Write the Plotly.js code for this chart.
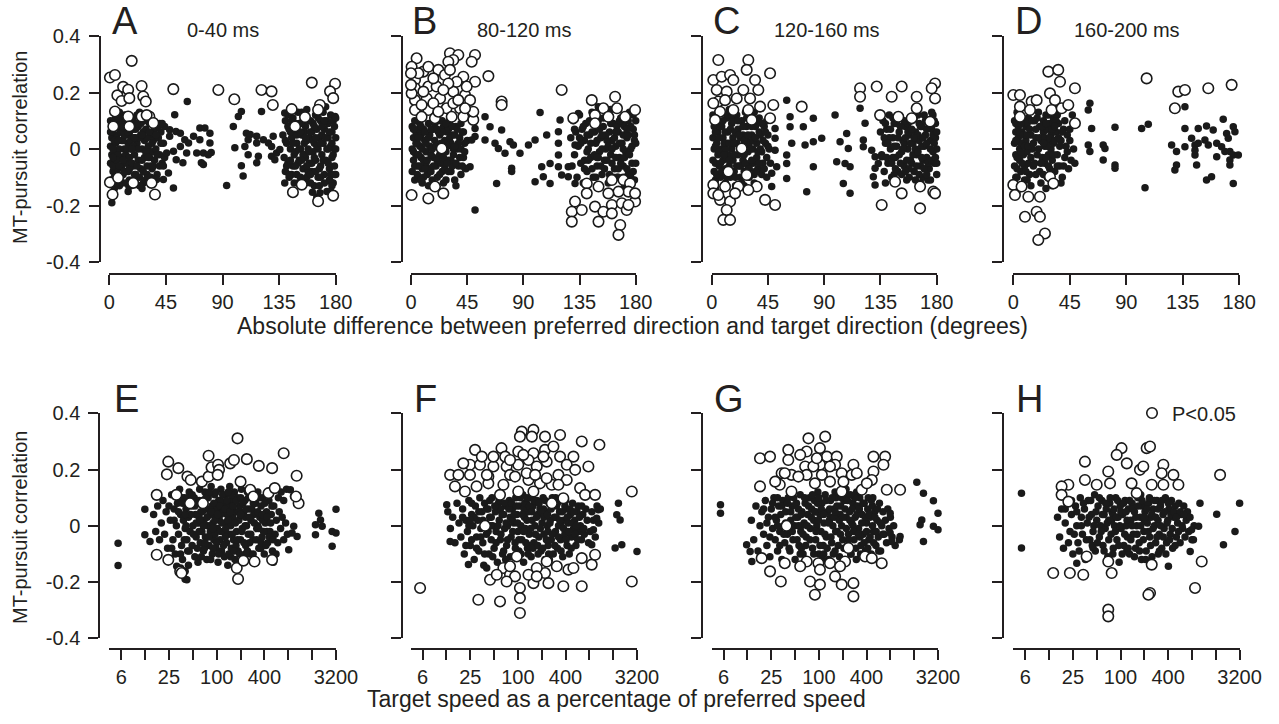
<!DOCTYPE html>
<html><head><meta charset="utf-8">
<script src="https://cdn.plot.ly/plotly-3.0.1.min.js"></script>
<style>html,body{margin:0;padding:0;background:#fff;}#chart{width:1279px;height:724px;}</style>
</head><body><div id="chart"></div>
<script>
// ---------- DATA ----------
const dirTickVals = [0, 45, 90, 135, 180];
const dirTickText = ['0', '45', '90', '135', '180'];
const speedTickVals = [6.25, 12.5, 25, 50, 100, 200, 400, 800, 1600, 3200];
const speedTickText = ['6', '', '25', '', '100', '', '400', '', '', '3200'];
const corrTickVals = [-0.4, -0.2, 0, 0.2, 0.4];
const corrTickText = ['-0.4', '-0.2', '0', '0.2', '0.4'];
const panelLetters = ['A', 'B', 'C', 'D', 'E', 'F', 'G', 'H'];
const timeWindows = ['0-40 ms', '80-120 ms', '120-160 ms', '160-200 ms'];
const yTitle = 'MT-pursuit correlation';
const xTitleTop = 'Absolute difference between preferred direction and target direction (degrees)';
const xTitleBottom = 'Target speed as a percentage of preferred speed';
const legendName = 'P<0.05';

// Panel A: direction, 0-40 ms  [deg, r]
const dotsA = [[1,0.1],[3,0.07],[2,0.04],[1,0.01],[2,-0.02],[1,-0.05],[3,-0.08],[2,-0.11],[4,-0.14],[2,-0.19],
[5,0.11],[6,0.05],[5,0.02],[6,-0.01],[5,-0.04],[7,-0.07],[6,-0.1],[8,-0.13],[7,0.08],[8,0.0],
[9,0.1],[10,0.06],[10,0.03],[9,-0.03],[10,-0.06],[11,-0.09],[10,-0.12],[12,0.12],[12,0.0],[13,-0.02],
[14,0.09],[14,0.05],[15,0.02],[14,-0.05],[15,-0.08],[16,-0.11],[17,-0.13],[18,0.1],[18,0.04],[17,0.0],
[19,0.07],[20,-0.02],[19,-0.06],[21,-0.09],[20,-0.12],[22,0.12],[22,0.02],[23,-0.04],[23,0.08],[24,-0.1],
[25,0.05],[26,0.0],[25,-0.07],[27,-0.12],[27,0.1],[28,0.03],[28,-0.03],[29,0.07],[30,-0.06],[30,-0.09],
[31,0.01],[32,0.09],[32,-0.03],[33,0.05],[34,-0.01],[34,-0.07],[35,0.03],[36,0.07],[36,-0.04],[37,0.0],
[38,-0.09],[39,0.04],[40,-0.02],[41,0.06],[42,-0.05],[43,0.02],[44,-0.03],[40,0.09],[26,-0.14],[15,-0.15],
[24,0.13],[8,0.13],[11,0.03],[13,0.06],[16,-0.03],[21,0.04],[29,-0.01],[33,-0.1],[4,0.03],[7,-0.02],
[15.6,-0.132],[37.6,-0.108],
[52,0.121],[62,0.168],[44,0.08],[48,0.068],[53,0.062],[56.5,0.056],[48,0.045],[60,0.033],[67,0.045],[72,0.074],
[76,0.074],[80,0.056],[72,0.033],[80,0.021],[63,0.021],[56.5,0.009],[51,-0.008],[45.6,-0.014],[61.5,-0.014],[69.5,-0.014],
[74.8,-0.014],[81,-0.012],[78.7,-0.02],[53.2,-0.038],[58.5,-0.049],[73.2,-0.049],[74.8,-0.055],[47,-0.085],[43,-0.108],[51,-0.138],
[93.3,-0.129],[98.6,0.08],[102.6,0.115],[105,0.133],[109,0.056],[112,0.051],[110.4,0.033],[107.8,0.009],[99.8,0.004],[110.4,-0.02],
[105,-0.059],[106.4,-0.096],[117.2,-0.049],[118.5,-0.026],[117.2,0.045],[117.2,0.021],[122.5,0.033],[121,0.133],[126.5,0.021],[129,0.009],
[130.3,0.045],[129,-0.026],[131.6,-0.038],[133,-0.014],[135.6,-0.002],
[138,0.05],[139,-0.03],[140,0.1],[140,-0.08],[141,0.02],[142,-0.05],[143,0.07],[143,-0.1],[144,0.0],[145,0.04],
[146,-0.06],[146,0.11],[147,-0.02],[148,0.06],[149,-0.09],[149,0.02],[150,-0.12],[151,0.09],[151,-0.04],[152,0.0],
[153,0.13],[153,0.05],[154,-0.07],[155,0.02],[155,-0.02],[156,0.08],[157,-0.1],[157,0.14],[158,0.0],[159,0.04],
[159,-0.05],[160,0.1],[161,-0.08],[161,0.06],[162,-0.01],[163,0.02],[163,-0.13],[164,0.12],[164,-0.04],[165,0.07],
[166,0.0],[166,-0.1],[167,0.04],[168,-0.06],[168,0.1],[169,-0.02],[170,0.13],[170,0.02],[171,-0.09],[171,0.07],
[172,-0.04],[173,0.0],[173,-0.15],[174,0.09],[174,0.04],[175,-0.07],[175,-0.11],[176,0.01],[176,0.12],[177,-0.03],
[177,0.06],[178,-0.12],[178,0.1],[179,0.0],[179,-0.06],[180,0.04],[180,-0.09],[165,-0.17],[172,0.15],[160,-0.12],
[145,-0.09],[150,0.13],[156,-0.03],[162,0.09],[167,-0.13],[154,0.1],[148,-0.01],[142,0.12],[158,-0.08],[169,0.05],
[179.5,0.115],[175.6,-0.114],[177,-0.13],[167.5,-0.155],[161.5,-0.153],[139.5,-0.12],[143,-0.09],[139.5,0.127]];
const coreA = [[2,0.06],[3,0.0],[3,-0.06],[4,0.1],[4,-0.1],[6,0.08],[6,-0.04],[7,0.03],[8,-0.06],[9,0.06],
[9,-0.1],[11,0.08],[11,-0.04],[12,-0.08],[13,0.1],[13,-0.12],[14,0.0],[16,0.06],[16,-0.07],[17,0.03],
[18,-0.05],[19,0.11],[19,0.01],[20,-0.09],[21,0.07],[22,-0.06],[23,0.0],[24,0.04],[24,-0.13],[25,0.09],
[26,-0.04],[27,0.06],[27,-0.08],[28,0.1],[29,-0.11],[30,0.04],[31,-0.03],[32,0.06],[33,-0.06],[34,0.02],
[35,0.1],[35,-0.06],[37,0.05],[38,-0.02],[39,0.08],[40,-0.06],[41,0.02],[43,-0.06],[42,0.09],[5,-0.12],
[10,0.11],[18,0.0],[22,0.09],[26,0.05],[12,0.05],[7,0.11],[15,0.06],[20,0.04],[3,-0.03],[1,0.06],
[140,0.03],[141,-0.06],[142,0.08],[144,-0.04],[145,0.1],[146,0.02],[147,-0.12],[148,0.09],[149,0.05],[150,-0.05],
[151,0.0],[152,-0.1],[153,0.09],[154,-0.02],[155,0.06],[156,-0.12],[157,0.03],[158,0.1],[159,-0.01],[160,0.06],
[161,-0.05],[162,0.03],[163,0.08],[164,-0.08],[165,0.01],[166,0.11],[167,-0.07],[168,0.02],[169,0.08],[170,-0.04],
[171,-0.12],[172,0.04],[173,0.1],[174,-0.05],[175,0.06],[176,-0.09],[177,0.02],[178,-0.02],[179,0.08],[180,0.0],
[176,-0.15],[179,-0.09],[180,0.11],[174,0.0],[168,-0.1],[164,0.04],[160,-0.09],[156,0.04],[152,0.06],[148,-0.06],
[144,0.06],[171,0.1],[163,-0.03],[157,-0.06],[153,-0.04]];
const openA = [[0.5,0.253],[4.5,0.262],[17.8,0.312],[6.4,0.19],[11,0.22],[15,0.21],[9.8,0.17],[15.9,0.18],[25.7,0.223],[27,0.186],
[29,0.168],[4.5,0.133],[15,0.115],[25.7,0.115],[31.8,0.115],[29.7,0.12],[3.2,0.08],[15.9,0.08],[35,0.092],[50.9,0.212],
[86.7,0.209],[99.4,0.176],[121,0.209],[129,0.204],[130,0.156],[145,0.141],[161,0.235],[179.5,0.231],[175.5,0.204],[178,0.18],
[167.5,0.156],[166,0.139],[155.6,0.113],[147.7,0.08],[0.5,-0.118],[2.6,-0.161],[7,-0.102],[19,-0.12],[33.6,-0.12],[36.3,-0.161],
[146,-0.153],[153,-0.126],[166,-0.185],[178,-0.165]];

// Panel B: direction, 80-120 ms
const dotsB = [[1,0.08],[2,0.04],[1,0.0],[2,-0.04],[1,-0.08],[3,-0.11],[4,0.06],[5,0.02],[4,-0.02],[5,-0.06],
[6,-0.1],[7,0.09],[8,0.05],[7,0.01],[8,-0.03],[9,-0.07],[9,-0.12],[10,0.07],[11,0.03],[12,-0.01],
[12,-0.05],[13,-0.09],[14,0.09],[15,0.05],[15,0.01],[16,-0.08],[17,-0.11],[18,0.07],[19,0.03],[20,-0.06],
[21,-0.1],[22,0.1],[23,0.05],[23,-0.02],[24,-0.05],[25,-0.08],[26,0.08],[27,0.03],[28,-0.01],[28,-0.11],
[29,0.06],[30,-0.04],[31,0.1],[32,0.02],[32,-0.08],[33,0.05],[34,-0.02],[35,-0.11],[36,0.08],[37,0.0],
[38,-0.06],[39,0.04],[40,-0.09],[41,0.06],[42,-0.03],[43,0.02],[44,-0.07],[36,-0.13],[20,0.1],[10,-0.04],
[3,0.1],[6,0.07],[14,-0.13],[25,0.1],[30,0.07],[18,-0.03],[26,-0.12],[40,0.09],[45,0.03],[33,-0.06],
[51.3,-0.216],[59.3,0.114],[51.3,0.073],[63.3,0.079],[72.6,0.067],[59.3,0.032],[70,0.002],[75.3,-0.015],[79.3,0.026],[82,0.014],
[87.3,-0.015],[67.3,0.02],[80.6,-0.068],[80.6,-0.08],[68.6,-0.122],[51.3,0.044],[48.6,0.032],[47.3,-0.063],[43.3,-0.068],[103.4,0.129],
[108.7,0.05],[99.4,0.032],[94.1,0.014],[118.1,0.061],[118.1,0.02],[118.1,-0.021],[118.1,-0.063],[111.4,-0.051],[104.7,-0.063],[106,-0.098],
[99.4,-0.116],[111.4,-0.122],[119.4,0.103],[120.7,-0.092],[126,-0.098],[131.4,-0.122],[126,-0.063],[134,0.126],[131.4,0.014],
[128,0.04],[129,-0.06],[130,0.1],[131,-0.02],[132,0.06],[133,-0.1],[134,0.01],[135,0.12],[136,-0.05],[137,0.07],
[138,-0.12],[139,0.03],[140,0.09],[141,-0.08],[142,0.0],[143,0.05],[144,-0.03],[145,0.13],[146,-0.1],[147,0.06],
[148,0.02],[149,-0.06],[150,0.1],[151,-0.01],[152,0.04],[153,-0.09],[154,0.08],[155,-0.04],[156,0.0],[157,0.12],
[158,-0.12],[159,0.06],[160,-0.02],[161,0.03],[162,0.09],[163,-0.07],[164,0.01],[165,-0.1],[166,0.06],[167,-0.03],
[168,0.11],[169,0.02],[170,-0.06],[171,0.08],[172,-0.01],[173,0.04],[174,-0.09],[175,0.13],[176,0.0],[177,-0.05],
[178,0.07],[179,-0.11],[180,0.02],[180,0.1],[179,0.05],[177,-0.12],[174,0.1],[170,0.05],[166,-0.07],[162,-0.1],
[157,0.03],[152,-0.06],[147,-0.02],[143,0.1],[139,-0.04],[135,0.04],[131,0.07],[160,0.14],[150,0.15],[171,-0.13]];
const coreB = [[2,0.07],[2,-0.01],[3,-0.06],[4,0.02],[5,-0.09],[6,0.04],[6,-0.02],[7,-0.06],[8,0.08],[9,0.0],
[10,-0.1],[11,0.06],[12,0.02],[13,-0.04],[14,0.04],[15,-0.07],[16,0.07],[16,-0.02],[17,0.0],[18,-0.06],
[19,0.09],[20,0.01],[21,-0.04],[22,0.06],[23,-0.09],[24,0.02],[25,0.06],[26,-0.03],[27,-0.07],[28,0.09],
[29,0.01],[30,-0.08],[31,0.04],[32,-0.04],[33,0.08],[34,0.0],[35,0.05],[36,-0.05],[37,0.07],[38,0.02],
[39,-0.03],[40,0.0],[41,-0.06],[42,0.06],[43,-0.01],[11,-0.07],[21,0.07],[29,-0.05],[35,0.01],[8,-0.11],
[136,0.02],[138,0.08],[139,-0.07],[141,0.05],[142,-0.04],[144,0.02],[145,-0.07],[146,0.09],[148,-0.1],[149,0.03],
[150,-0.03],[151,0.07],[153,0.0],[154,0.11],[155,-0.07],[156,0.05],[158,0.01],[159,-0.09],[160,0.09],[161,-0.05],
[163,0.04],[164,-0.03],[165,0.08],[166,-0.1],[167,0.02],[168,-0.05],[169,0.09],[170,0.0],[171,-0.03],[172,0.11],
[173,-0.07],[174,0.05],[175,-0.02],[176,0.08],[177,0.01],[178,-0.08],[179,0.03],[180,-0.05],[178,0.12],[176,-0.1],
[173,0.07],[170,-0.1],[167,0.1],[164,0.06],[161,0.0],[157,-0.04],[153,0.05],[149,-0.03],[145,0.06],[141,-0.01]];
const openB = [[4.5,0.321],[0.5,0.291],[9.9,0.274],[13.9,0.291],[21.9,0.28],[31.2,0.339],[37.9,0.333],[33.9,0.315],[29.9,0.309],[51.3,0.333],
[48.6,0.309],[62,0.258],[27.2,0.262],[31.2,0.28],[41.9,0.256],[51.3,0.238],[3.2,0.244],[3.2,0.215],[13.9,0.221],[20.5,0.221],
[3.2,0.173],[12.6,0.179],[23.3,0.179],[33.9,0.203],[43.3,0.191],[47.3,0.173],[3.2,0.138],[13.9,0.138],[28.5,0.144],[39.3,0.144],
[8.5,0.114],[19.2,0.109],[32.6,0.114],[41.9,0.114],[49.9,0.103],[0.5,0.197],[0,0.227],[24.6,0.002],[72.6,0.168],[72.6,0.156],
[120.7,0.209],[0.5,-0.163],[13.9,-0.175],[19.2,-0.133],[25.9,-0.157],
[5.9,0.268],[17.9,0.25],[36.6,0.238],[9.9,0.203],[29.9,0.232],[44.6,0.221],[17.9,0.162],[33.9,0.162],[0,0.268],[25.9,0.209],
[37.9,0.173],[8.5,0.156],[21.9,0.132],[49.9,0.132],[43.3,0.144],
[144.8,0.173],[154.1,0.144],[163.5,0.185],[165,0.144],[171.5,0.114],[147.4,0.12],[158.1,0.114],[147.4,0.091],[130,0.109],[179.5,0.138],
[140.8,-0.122],[150.2,-0.133],[160.9,-0.11],[170.2,-0.11],[175.5,-0.122],[174.2,-0.151],[166.2,-0.151],[158.1,-0.157],[140.8,-0.157],[131.4,-0.186],
[128.8,-0.222],[136.8,-0.216],[147.4,-0.204],[154.1,-0.222],[150.2,-0.257],[160.9,-0.198],[168.9,-0.192],[179.5,-0.186],[172.8,-0.216],[167.6,-0.269],
[166.2,-0.304],[128.8,-0.257],[179.5,-0.157],[174.2,-0.198],[160.9,-0.228]];

// Panel C: direction, 120-160 ms
const dotsC = [[1,0.12],[2,0.08],[1,0.04],[2,0.0],[1,-0.04],[2,-0.08],[3,-0.11],[4,0.1],[5,0.06],[4,0.02],
[5,-0.02],[6,-0.06],[7,-0.1],[8,0.13],[8,0.08],[9,0.04],[8,0.0],[9,-0.04],[10,-0.08],[11,-0.12],
[12,0.11],[13,0.06],[12,0.02],[13,-0.02],[14,-0.06],[15,-0.1],[16,0.09],[17,0.04],[16,0.0],[17,-0.04],
[18,-0.08],[19,-0.13],[20,0.12],[21,0.07],[20,0.02],[21,-0.02],[22,-0.06],[23,-0.1],[24,0.1],[25,0.05],
[24,0.0],[25,-0.04],[26,-0.08],[27,0.13],[28,0.08],[28,0.03],[29,-0.01],[29,-0.06],[30,-0.1],[31,0.11],
[32,0.05],[33,0.0],[33,-0.05],[34,-0.09],[35,0.08],[36,0.02],[36,-0.03],[37,-0.07],[38,0.11],[39,0.05],
[40,-0.01],[41,-0.05],[42,0.08],[43,0.02],[44,-0.03],[44,0.1],[40,-0.09],[45,0.05],[46,0.0],[47,-0.05],
[6,0.14],[14,0.14],[3,-0.14],[10,-0.14],[26,-0.13],[18,0.12],[34,0.13],[11,0.0],[23,0.04],[30,0.02],
[60,0.173],[62.7,0.114],[62.7,0.079],[73.3,0.079],[81.3,0.109],[50.7,0.073],[50.7,0.038],[64,0.02],[74.7,0.014],[81.3,0.026],
[88,0.038],[50.7,-0.004],[60,-0.021],[60,-0.051],[60,-0.104],[81.3,-0.063],[76,-0.151],[48,-0.133],[98.7,0.12],[108,0.055],
[102.7,0.026],[109.3,0.002],[100,-0.045],[106.7,-0.051],[110.7,-0.063],[105.3,-0.122],[110.7,-0.157],[118.7,0.144],[122.7,0.091],[121.3,0.032],
[121.3,0.008],[128,-0.004],[130.7,-0.027],[130.7,-0.068],[129.3,-0.098],[130.7,-0.127],[133.3,-0.051],[136,-0.027],[48,-0.086],[52,-0.063],
[135,0.06],[136,-0.02],[137,0.1],[138,-0.08],[139,0.02],[140,0.07],[141,-0.05],[142,0.12],[143,0.0],[144,-0.1],
[145,0.04],[146,0.09],[147,-0.03],[148,0.01],[149,-0.08],[150,0.06],[151,0.11],[152,-0.01],[153,0.03],[154,-0.06],
[155,0.08],[156,-0.11],[157,0.0],[158,0.05],[159,-0.04],[160,0.1],[161,0.02],[162,-0.08],[163,0.06],[164,-0.02],
[165,0.12],[166,0.03],[167,-0.06],[168,0.08],[169,-0.1],[170,0.01],[171,0.05],[172,-0.03],[173,0.1],[174,-0.07],
[175,0.03],[176,0.07],[177,-0.01],[178,-0.05],[179,0.09],[180,0.0],[180,-0.09],[179,0.04],[177,0.12],[175,-0.11],
[172,0.07],[169,-0.04],[166,0.09],[163,-0.11],[160,-0.05],[157,0.09],[154,0.02],[151,-0.05],[148,0.09],[145,-0.03],
[142,0.04],[139,-0.12],[176,0.13],[170,0.12],[167,-0.12],[173,-0.11],[146,-0.09],[158,-0.1]];
const coreC = [[2,0.11],[3,0.06],[3,0.01],[3,-0.05],[4,-0.09],[5,0.13],[6,0.04],[6,-0.01],[7,0.08],[7,-0.05],
[9,0.1],[10,0.02],[10,-0.02],[11,0.06],[11,-0.07],[12,-0.1],[13,0.12],[14,0.02],[14,-0.04],[15,0.07],
[16,-0.08],[17,0.1],[18,0.02],[18,-0.02],[19,0.06],[19,-0.1],[20,-0.06],[21,0.1],[22,0.01],[22,0.05],
[23,-0.06],[24,-0.12],[25,0.08],[26,0.03],[26,-0.02],[27,-0.05],[28,0.11],[29,0.05],[30,-0.07],[31,0.0],
[32,0.08],[32,-0.04],[33,0.03],[34,-0.12],[35,0.04],[36,0.1],[37,-0.01],[38,0.06],[38,-0.05],[39,0.0],
[40,0.09],[41,0.03],[42,-0.07],[43,0.06],[44,-0.1],[45,0.01],[16,0.12],[8,-0.08],[27,0.0],[35,-0.08],
[138,0.04],[139,0.09],[140,-0.03],[141,0.02],[143,0.07],[144,-0.05],[145,0.11],[146,0.01],[147,-0.07],[149,0.04],
[150,-0.02],[151,0.08],[152,-0.09],[153,0.0],[154,0.1],[155,0.04],[156,-0.04],[157,0.06],[158,-0.07],[159,0.02],
[160,0.07],[161,-0.02],[162,0.11],[163,0.0],[164,-0.06],[165,0.05],[166,-0.09],[167,0.08],[168,0.01],[169,0.04],
[170,-0.07],[171,0.1],[172,0.02],[173,-0.05],[174,0.08],[175,0.0],[176,-0.04],[177,0.05],[178,0.1],[179,-0.03],
[180,0.06],[180,-0.05],[178,0.02],[175,0.1],[172,-0.09],[168,-0.03],[165,-0.01],[162,0.04],[159,0.1],[155,-0.08]];
const openC = [[5.3,0.315],[29.3,0.315],[28,0.28],[1.3,0.244],[8,0.256],[14.7,0.262],[17.3,0.244],[34.7,0.244],[46.7,0.268],[4,0.209],
[12,0.203],[25.3,0.209],[37.3,0.209],[5.3,0.168],[10.7,0.173],[20,0.179],[30.7,0.179],[49.3,0.156],[72,0.15],[6.7,0.132],
[17.3,0.138],[29.3,0.138],[38.7,0.15],[46.7,0.109],[32,0.103],[2.7,0.103],[1.3,0.162],[24,0.002],[13.3,-0.08],[28,-0.092],
[1.3,-0.127],[1.3,-0.157],[10.7,-0.133],[21.3,-0.133],[36,-0.133],[6.7,-0.18],[14.7,-0.186],[12,-0.216],[9.3,-0.251],[14.7,-0.251],
[42.7,-0.18],[50.7,-0.198],[5.3,-0.163],[18.7,-0.157],[29.3,-0.145],
[118.7,0.215],[118.7,0.185],[132,0.221],[144,0.185],[152,0.221],[164,0.185],[164,0.144],[178.7,0.232],[178.7,0.179],[176,0.215],
[134.7,0.12],[149.3,0.114],[160,0.109],[146.7,-0.116],[152,-0.157],[166.7,-0.133],[177.3,-0.151],[178.7,-0.157],[136,-0.198],[166.7,-0.21],
[174.7,0.097]];

// Panel D: direction, 160-200 ms
const dotsD = [[1,0.1],[2,0.06],[1,0.02],[2,-0.02],[1,-0.06],[3,-0.1],[3,0.13],[4,0.08],[4,0.04],[5,0.0],
[5,-0.04],[6,-0.08],[7,0.1],[7,0.06],[8,0.02],[8,-0.02],[9,-0.06],[9,-0.11],[10,0.08],[10,0.03],
[11,-0.01],[12,-0.05],[12,0.11],[13,-0.09],[14,0.05],[15,0.0],[16,-0.06],[17,0.1],[18,0.04],[19,-0.02],
[20,0.13],[21,0.08],[21,-0.08],[22,0.03],[22,-0.12],[23,-0.03],[24,0.1],[24,0.06],[25,0.01],[25,-0.05],
[26,0.12],[27,0.07],[27,-0.1],[28,0.03],[28,-0.02],[29,0.09],[29,-0.07],[30,0.05],[30,0.0],[31,-0.04],
[31,-0.13],[32,0.11],[32,0.02],[33,-0.08],[34,0.06],[35,-0.02],[36,0.09],[37,-0.06],[38,0.03],[39,-0.1],
[40,0.07],[41,-0.03],[42,0.01],[43,0.05],[44,-0.07],[45,0.03],[46,-0.04],[47,0.12],[48,0.0],[49,-0.05],
[18,-0.09],[14,-0.13],[6,0.02],[11,0.09],[35,0.12],[38,-0.12],[3,-0.15],[26,-0.14],
[61,0.162],[59.7,0.138],[62.4,0.073],[81,0.077],[59.7,0.014],[61,-0.009],[71.6,0.014],[73,0.002],[71.6,-0.039],[81,-0.057],
[81,-0.068],[102.2,0.073],[107.5,0.088],[104.9,-0.137],[136.7,0.15],[136.7,0.073],[147.3,0.073],[153.9,0.081],[159.2,0.067],[167.2,0.105],
[175.2,0.079],[176.5,0.061],[169.9,0.055],[171.2,0.038],[126.1,0.014],[130,-0.009],[142,0.038],[144.7,0.014],[147.3,0.02],[155.3,0.014],
[162,0.02],[165.9,0.008],[144.7,-0.021],[146,-0.057],[162,-0.027],[172.5,-0.009],[175.2,-0.021],[179.2,-0.021],[172.5,-0.039],[172.5,-0.057],
[130,-0.057],[128.7,-0.074],[153.9,-0.11],[157.9,-0.098],[175.2,-0.122],[144.7,-0.004],[152.6,0.032],[168.5,-0.009],[136.7,0.008]];
const coreD = [[2,0.09],[2,0.03],[3,-0.03],[3,-0.07],[4,0.11],[5,0.06],[6,-0.01],[6,0.09],[7,-0.05],[8,0.05],
[9,0.01],[10,-0.08],[11,0.05],[12,0.01],[13,0.07],[14,-0.03],[15,0.1],[16,0.02],[17,-0.05],[18,0.07],
[19,0.11],[20,0.0],[21,0.04],[22,-0.05],[23,0.08],[24,-0.09],[25,0.04],[26,0.09],[26,-0.03],[27,0.01],
[28,0.12],[28,-0.06],[29,0.04],[30,-0.1],[31,0.07],[32,-0.02],[33,0.03],[34,0.1],[35,-0.06],[36,0.04],
[37,0.01],[39,0.06],[40,-0.06],[41,0.1],[43,-0.01],[45,0.07],[2,-0.1],[11,-0.11],[24,0.02],[33,0.08]];
const openD = [[27.9,0.274],[35.8,0.28],[37.2,0.238],[49.1,0.215],[0,0.191],[5.3,0.191],[14.6,0.168],[18.6,0.173],[29.2,0.197],[33.2,0.173],
[5.3,0.15],[13.3,0.138],[30.5,0.138],[38.5,0.144],[43.8,0.156],[5.3,0.114],[49.1,0.091],[106.2,0.25],[131.4,0.203],[136.7,0.209],
[128.7,0.144],[155.3,0.215],[173.9,0.227],[0,-0.127],[6.6,-0.133],[1.3,-0.163],[12,-0.169],[21.2,-0.169],[29.2,-0.098],[31.9,-0.122],
[18.6,-0.222],[9.3,-0.24],[21.2,-0.24],[25.2,-0.299],[19.9,-0.322]];

// Panel E: speed (% of preferred), 0-40 ms
const dotsE = [[16,0.04],[17,-0.02],[18,0.07],[19,-0.05],[20,0.01],[21,0.09],[22,-0.03],[23,0.05],[24,-0.08],[26,0.02],
[27,0.11],[28,-0.05],[29,0.06],[30,-0.1],[31,0.0],[32,0.08],[33,-0.03],[34,0.13],[35,0.04],[36,-0.07],
[37,-0.12],[38,0.02],[39,0.1],[40,-0.01],[41,0.06],[42,-0.05],[43,-0.09],[44,0.03],[45,0.12],[46,-0.02],
[48,0.07],[49,-0.07],[50,0.0],[52,0.1],[53,-0.11],[54,0.04],[55,-0.04],[57,0.08],[58,-0.13],[59,0.01],
[61,0.13],[62,-0.06],[63,0.05],[65,-0.02],[66,0.09],[68,-0.09],[69,0.02],[71,0.12],[72,-0.04],[74,0.06],
[75,-0.12],[77,0.0],[78,0.1],[80,-0.07],[82,0.04],[83,-0.02],[85,0.14],[87,0.07],[88,-0.1],[90,0.01],
[92,-0.05],[94,0.11],[96,0.03],[98,-0.08],[100,0.06],[102,-0.01],[104,-0.13],[106,0.09],[108,0.02],[110,-0.05],
[113,0.13],[115,-0.09],[117,0.05],[120,-0.02],[122,0.08],[125,-0.11],[127,0.01],[130,0.11],[133,-0.06],[135,0.04],
[138,-0.14],[140,0.07],[143,-0.03],[146,0.14],[150,0.0],[153,-0.08],[156,0.09],[160,0.03],[163,-0.05],[167,0.12],
[170,-0.12],[174,0.05],[178,-0.02],[182,0.1],[186,-0.09],[190,0.02],[195,0.07],[200,-0.05],[205,0.13],[210,-0.01],
[215,-0.12],[220,0.05],[226,0.09],[232,-0.07],[238,0.0],[244,0.12],[250,-0.03],[257,0.06],[264,-0.1],[271,0.02],
[278,0.1],[286,-0.05],[294,0.04],[302,-0.13],[310,0.08],[320,-0.01],[330,0.12],[340,-0.08],[350,0.03],[362,0.07],
[374,-0.04],[386,0.1],[398,-0.1],[410,0.01],[425,0.05],[440,-0.06],[455,0.09],[470,-0.02],[488,0.04],[505,-0.09],
[525,0.07],[545,-0.03],[565,0.02],[590,-0.06],[615,0.05],[640,-0.01],[670,0.03],[700,-0.05],[740,0.01],[780,-0.03],
[60,0.03],[70,-0.08],[84,0.0],[95,-0.03],[112,0.04],[128,-0.04],[145,0.02],[175,-0.07],[198,0.04],[230,0.03],
[260,-0.06],[290,0.08],[330,0.0],[380,0.02],[430,-0.02],[44,-0.14],[36,0.1],[112,0.09],[150,-0.11],[230,-0.1],
[360,-0.08],[600,0.1],[650,0.12],[760,0.13],[700,0.09],[560,-0.1],[520,-0.13],[35,-0.15],[40,-0.19],[38,-0.17],
[5.7,-0.062],[5.7,-0.141],[12.4,0.059],[12.4,-0.032],[14.4,-0.056],[1763,0.004],[1763,-0.032],[1942,0.045],[2040,0.021],[2140,-0.002],
[2860,-0.02],[2860,-0.073],[3200,0.059],[3200,-0.026],[850,0.128],[810,-0.085],[937,-0.002],[1032,-0.038],[893,-0.026],[42,-0.192],
[40,-0.162],[31.3,-0.144],[930,0.105]];
const coreE = [[25,0.07],[27,-0.08],[29,0.02],[31,0.11],[33,0.05],[35,-0.1],[37,0.08],[39,-0.05],[41,0.0],[43,0.1],
[45,-0.09],[47,0.04],[49,0.11],[51,-0.03],[53,0.07],[55,0.01],[57,-0.08],[60,0.09],[62,0.02],[64,-0.11],
[66,0.05],[68,0.0],[71,-0.06],[73,0.1],[76,0.03],[79,-0.04],[81,0.12],[84,-0.12],[86,0.05],[89,-0.01],
[92,0.08],[95,0.02],[98,0.12],[100,-0.06],[103,0.04],[106,-0.1],[109,0.07],[112,-0.02],[116,0.01],[119,0.11],
[122,-0.07],[126,0.06],[130,-0.01],[134,0.09],[138,0.02],[142,-0.1],[147,0.05],[152,0.11],[157,-0.03],[162,0.07],
[167,-0.09],[172,0.01],[177,0.09],[183,-0.05],[189,0.05],[195,-0.1],[201,0.1],[207,-0.02],[214,0.08],[221,-0.06],
[228,0.0],[236,0.06],[244,-0.09],[252,0.1],[260,0.03],[269,-0.03],[278,0.06],[288,-0.1],[298,0.01],[308,0.11],
[318,-0.05],[329,0.05],[340,-0.01],[352,0.1],[364,-0.06],[376,0.04],[390,-0.02],[404,0.08],[418,-0.07],[432,0.03],
[447,0.11],[463,-0.04],[480,0.01],[497,0.07],[515,-0.05],[40,0.04],[60,-0.02],[90,-0.08],[140,0.12],[200,0.04]];
const openE = [[24.5,0.228],[23.5,0.183],[32.8,0.205],[42.7,0.175],[47,0.163],[65,0.157],[79,0.175],[79,0.249],[86,0.208],[104,0.217],
[107,0.199],[103,0.181],[148,0.222],[165,0.234],[183,0.311],[240,0.237],[340,0.213],[500,0.205],[700,0.258],[1020,0.178],
[1080,0.08],[1000,0.104],[200,0.157],[265,0.128],[290,0.104],[450,0.116],[540,0.134],[17.5,0.11],[31,0.11],[46,0.08],
[67,0.08],[17.5,-0.103],[24.5,-0.121],[34.6,-0.162],[36,-0.168],[179,-0.15],[186,-0.189],[217,-0.124],[300,-0.127],[500,-0.121]];

// Panel F: speed, 80-120 ms
const dotsF = [[13,0.05],[14,-0.01],[15,0.03],[16,-0.06],[17,0.08],[18,0.01],[19,-0.04],[20,0.06],[21,-0.1],[22,0.02],
[23,-0.02],[24,0.09],[25,-0.07],[26,0.04],[27,0.0],[28,-0.12],[29,0.07],[30,-0.04],[31,0.02],[32,-0.09],
[33,0.1],[34,-0.01],[35,0.05],[36,-0.06],[37,-0.14],[38,0.08],[39,0.01],[40,-0.03],[42,0.06],[43,-0.1],
[44,0.03],[46,-0.05],[47,0.1],[48,0.0],[50,-0.08],[52,0.05],[53,-0.02],[55,-0.13],[57,0.08],[58,0.02],
[60,-0.05],[62,0.11],[64,-0.1],[66,0.04],[68,-0.01],[70,0.07],[72,-0.07],[74,0.0],[76,-0.14],[78,0.09],
[80,0.03],[82,-0.04],[85,0.06],[87,-0.11],[89,0.01],[92,-0.06],[94,0.1],[97,0.04],[100,-0.02],[103,-0.09],
[106,0.07],[109,0.0],[112,-0.05],[115,0.11],[118,-0.13],[121,0.03],[124,-0.01],[128,0.08],[132,-0.08],[135,0.05],
[139,-0.03],[143,0.1],[147,-0.11],[151,0.02],[155,0.07],[159,-0.06],[164,0.0],[169,-0.15],[174,0.09],[179,0.04],
[184,-0.04],[190,0.06],[196,-0.09],[202,0.01],[208,0.1],[214,-0.03],[220,-0.12],[227,0.05],[234,0.0],[241,-0.07],
[248,0.08],[256,0.02],[264,-0.05],[272,0.1],[280,-0.1],[289,0.03],[298,-0.02],[307,0.07],[316,-0.08],[326,0.0],
[336,0.05],[346,-0.05],[357,0.09],[368,-0.11],[380,0.02],[392,-0.03],[405,0.06],[418,-0.07],[432,0.01],[446,-0.1],
[460,0.04],[475,-0.04],[490,0.08],[506,-0.01],[522,0.02],[540,-0.07],[558,0.05],[576,0.07],[596,-0.02],[616,0.0],
[636,-0.05],[660,0.04],[690,-0.03],[720,0.06],[750,0.02],[780,-0.06],[820,-0.02],[860,0.05],[900,0.02],[950,-0.04],
[1000,0.07],[1050,0.01],[1100,0.06],[26,-0.05],[60,0.06],[85,0.02],[120,0.06],[140,-0.07],[180,-0.1],[210,0.06],
[240,-0.02],[300,0.1],[350,0.0],[45,0.0],
[1864,0.08],[1776,0.039],[1957,0.021],[1693,-0.079],[2055,-0.067],[3200,-0.091],[13.9,-0.056],[12.6,0.075],[23.7,-0.138],[40.3,-0.15],
[1040,0.057],[990,0.027],[900,-0.014],[857,-0.067]];
const coreF = [[20,0.03],[22,-0.07],[24,0.0],[26,0.08],[28,0.03],[30,-0.08],[32,0.05],[34,-0.04],[36,0.02],[38,-0.1],
[40,0.06],[42,-0.02],[44,0.09],[46,0.03],[48,-0.11],[51,0.07],[53,-0.06],[56,0.0],[58,0.09],[61,-0.03],
[63,0.04],[66,-0.09],[69,0.08],[71,0.01],[74,-0.05],[77,0.06],[80,-0.11],[83,0.08],[86,-0.02],[90,0.04],
[93,-0.08],[96,0.07],[99,0.01],[103,-0.05],[107,0.1],[110,-0.1],[114,0.04],[118,-0.02],[122,0.08],[126,-0.06],
[130,0.02],[135,-0.1],[140,0.07],[145,-0.01],[150,0.05],[155,-0.08],[160,0.09],[166,-0.03],[172,0.03],[178,-0.07],
[185,0.08],[192,-0.01],[199,0.05],[206,-0.08],[213,0.03],[221,0.09],[229,-0.05],[237,0.04],[245,-0.1],[254,0.01],
[263,0.06],[273,-0.03],[283,0.09],[293,-0.07],[304,0.03],[315,0.08],[326,-0.04],[338,0.02],[351,-0.09],[364,0.05],
[378,-0.01],[392,0.07],[407,-0.05],[422,0.03],[438,-0.02],[455,0.06],[472,-0.08],[490,0.01],[510,0.05],[530,-0.03],
[550,0.0],[570,-0.05],[600,0.03],[640,0.07],[680,-0.01],[25,0.02],[70,-0.12],[130,0.1],[250,-0.12],[400,0.09]];
const openF = [[5.8,-0.221],[112,0.335],[157,0.341],[220,0.317],[341,0.323],[641,0.3],[1072,0.288],[106,0.317],[150,0.317],[28.7,0.27],
[62,0.276],[69,0.246],[101,0.264],[157,0.258],[220,0.27],[341,0.246],[503,0.246],[778,0.211],[13.9,0.181],[17.7,0.181],
[24.8,0.217],[33.2,0.217],[24.8,0.181],[42.3,0.175],[49,0.211],[72,0.211],[79.5,0.181],[101,0.217],[136,0.234],[173,0.211],
[231,0.228],[325,0.181],[414,0.217],[16,0.14],[21.4,0.122],[30,0.14],[42.3,0.151],[65.5,0.146],[101,0.122],[136,0.163],
[190,0.151],[268,0.146],[375,0.098],[268,0.08],[611,0.134],[706,0.11],[945,0.11],[2750,0.122],[38.4,0.0],[96.6,-0.109],
[65.5,-0.15],[79.5,-0.174],[44.4,-0.192],[31.6,-0.263],[59.4,-0.269],[92,-0.18],[106,-0.221],[106,-0.257],[106,-0.31],[157,-0.204],
[220,-0.168],[243,-0.204],[375,-0.215],[435,-0.156],[641,-0.115],[641,-0.215],[857,-0.138],[945,-0.103],[231,-0.127],[310,-0.144],
[503,-0.15],[2750,-0.198],[72,-0.198],[136,-0.174],[173,-0.15],
[49,0.246],[40.5,0.181],[129,0.187],[92,0.175],[231,0.169],[414,0.163],[117,0.252],[210,0.246],[281,0.282],[79.5,0.234],
[35,0.246],[20.4,0.222],[165,0.181],[529,0.199],[325,0.146],[59.4,0.11],[157,0.122],[79.5,-0.144],[173,-0.18],[54,-0.174]];

// Panel G: speed, 120-160 ms
const dotsG = [[14,0.02],[15,-0.05],[16,0.07],[17,-0.09],[18,0.0],[19,0.05],[20,-0.03],[21,0.09],[22,-0.07],[23,0.03],
[24,-0.11],[25,0.06],[26,-0.01],[27,0.1],[28,-0.05],[29,0.02],[30,-0.09],[31,0.07],[32,-0.02],[33,0.04],
[34,-0.12],[35,0.09],[36,0.0],[37,-0.06],[38,0.05],[40,-0.03],[41,0.1],[43,-0.09],[44,0.02],[46,0.07],
[47,-0.05],[49,0.0],[50,-0.12],[52,0.08],[54,0.03],[56,-0.07],[58,0.11],[59,-0.02],[61,0.05],[63,-0.1],
[65,0.01],[67,0.08],[69,-0.04],[72,0.04],[74,-0.13],[76,0.1],[78,-0.01],[81,0.06],[83,-0.08],[86,0.02],
[88,0.09],[91,-0.05],[94,0.0],[97,0.12],[100,-0.1],[103,0.04],[106,-0.02],[109,0.08],[113,-0.07],[116,0.01],
[120,0.11],[124,-0.04],[128,0.05],[132,-0.12],[136,0.02],[140,0.09],[145,-0.06],[150,0.0],[155,0.06],[160,-0.09],
[165,0.1],[170,-0.02],[176,0.04],[182,-0.11],[188,0.07],[194,0.0],[200,-0.05],[207,0.09],[214,-0.08],[221,0.03],
[228,0.11],[236,-0.03],[244,0.05],[252,-0.1],[260,0.01],[269,0.08],[278,-0.05],[287,0.03],[297,-0.12],[307,0.07],
[317,-0.01],[328,0.1],[339,-0.07],[350,0.04],[362,-0.03],[374,0.08],[387,-0.09],[400,0.01],[414,0.06],[428,-0.05],
[443,0.03],[458,-0.1],[474,0.07],[490,-0.02],[507,0.05],[525,-0.07],[543,0.02],[562,-0.04],[582,0.08],[602,-0.09],
[623,0.0],[645,0.05],[668,-0.03],[692,0.02],[716,-0.06],[742,0.06],[770,-0.01],[800,0.03],[840,-0.04],[880,0.0],
[920,-0.07],[60,0.0],[90,0.05],[115,-0.1],[140,0.03],[185,0.04],[230,-0.07],[270,0.0],[330,-0.04],[420,0.1],
[60,-0.08],[160,0.12],[220,0.13],[300,0.12],[480,0.1],
[5.7,0.075],[5.7,0.045],[1727,0.155],[2095,0.116],[2800,0.089],[3200,0.045],[1996,0.021],[1900,0.004],[2800,-0.002],[3200,-0.014],
[2095,-0.056],[1062,-0.038],[795,0.045],[12.2,-0.067],[14.2,-0.127],[13.5,-0.091],[1040,-0.05],[830,-0.056],[795,-0.026]];
const coreG = [[20,0.06],[22,0.01],[24,-0.04],[26,0.08],[28,0.03],[30,0.0],[32,-0.07],[34,0.07],[36,-0.03],[38,0.01],
[40,0.08],[42,-0.08],[44,0.05],[46,-0.02],[48,0.1],[51,0.03],[53,-0.05],[55,0.06],[58,-0.1],[60,0.04],
[63,-0.03],[66,0.1],[68,-0.07],[71,0.0],[74,0.07],[77,-0.05],[80,0.03],[83,0.11],[86,-0.1],[89,0.05],
[92,-0.02],[96,0.08],[99,0.02],[103,-0.07],[107,0.06],[111,-0.12],[115,0.04],[119,-0.03],[123,0.09],[127,-0.08],
[132,0.01],[137,0.06],[142,-0.04],[147,0.1],[152,-0.1],[157,0.03],[163,-0.02],[169,0.07],[175,-0.07],[181,0.02],
[187,-0.03],[193,0.1],[200,0.03],[207,-0.08],[214,0.06],[222,-0.01],[230,0.09],[238,-0.05],[246,0.02],[255,-0.1],
[264,0.06],[273,-0.02],[283,0.1],[293,-0.08],[303,0.04],[314,-0.03],[325,0.06],[336,-0.1],[348,0.01],[360,0.08],
[373,-0.06],[386,0.03],[400,-0.02],[414,-0.08],[429,0.04],[444,-0.04],[460,0.09],[476,0.0],[493,-0.06],[510,0.03],
[530,-0.02],[550,0.06],[570,-0.09],[600,0.01],[640,-0.03],[30,0.1],[55,0.0],[100,0.1],[160,0.05],[250,0.11]];
const openG = [[73.7,0.311],[120,0.317],[103,0.276],[18,0.24],[24.1,0.246],[41,0.27],[41,0.234],[70,0.264],[126,0.246],[168,0.246],
[273,0.217],[489,0.246],[687,0.246],[654,0.217],[67,0.211],[103,0.217],[160,0.217],[33.8,0.187],[45,0.181],[70,0.181],
[109,0.181],[194,0.187],[489,0.193],[466,0.163],[18,0.14],[32,0.146],[45,0.122],[89,0.151],[138,0.157],[194,0.122],
[348,0.128],[720,0.128],[1062,0.128],[39,0.0],[236,-0.079],[18.9,-0.115],[37,-0.133],[70,-0.127],[58,-0.144],[98.6,-0.133],
[214,-0.127],[383,-0.109],[466,-0.115],[622,-0.133],[24.1,-0.162],[33,-0.198],[77.3,-0.198],[103,-0.156],[103,-0.209],[89,-0.245],
[160,-0.18],[194,-0.209],[273,-0.204],[273,-0.251],
[85,0.211],[55,0.175],[138,0.211],[204,0.157],[260,0.181],[58,0.252],[94,0.24],[28,0.157],[37,0.187],[403,0.151],
[301,0.187],[138,-0.133],[185,-0.144]];

// Panel H: speed, 160-200 ms
const dotsH = [[16,0.03],[17,-0.04],[18,0.06],[19,-0.08],[20,0.01],[21,0.08],[23,-0.02],[24,0.04],[25,-0.1],[27,0.07],
[28,0.0],[29,-0.06],[31,0.1],[32,0.03],[33,-0.03],[35,0.06],[36,-0.12],[38,0.01],[39,0.09],[41,-0.05],
[43,0.04],[45,-0.02],[47,0.11],[48,-0.09],[50,0.02],[52,0.07],[54,-0.04],[56,0.0],[58,0.09],[60,-0.07],
[62,0.04],[64,-0.01],[66,0.06],[69,-0.11],[71,0.02],[73,0.08],[76,-0.03],[78,0.05],[81,-0.08],[84,0.0],
[87,0.1],[90,-0.05],[93,0.03],[96,-0.13],[99,0.07],[102,-0.01],[106,0.04],[110,-0.07],[114,0.09],[118,0.0],
[122,-0.04],[126,0.06],[130,-0.1],[135,0.02],[140,0.08],[145,-0.03],[150,0.05],[155,-0.08],[160,0.0],[166,0.1],
[172,-0.06],[178,0.03],[184,-0.12],[190,0.07],[197,-0.02],[204,0.05],[211,-0.09],[218,0.01],[226,0.08],[234,-0.04],
[242,0.03],[250,-0.11],[259,0.06],[268,0.0],[278,-0.06],[288,0.09],[298,0.02],[309,-0.03],[320,0.07],[332,-0.08],
[344,0.04],[356,-0.01],[369,0.1],[382,-0.06],[396,0.02],[410,0.06],[425,-0.03],[440,0.09],[456,-0.08],[473,0.03],
[490,0.07],[508,-0.04],[527,0.01],[546,0.08],[566,-0.06],[587,0.04],[608,-0.01],[630,0.07],[653,-0.04],[677,0.02],
[702,0.05],[728,-0.02],[755,0.03],[800,-0.05],[850,0.0],[80,0.04],[120,-0.09],[200,0.02],[300,-0.1],[180,0.11],
[5.6,0.116],[5.6,-0.079],[1010,0.08],[1645,0.041],[3200,0.08],[2800,-0.02],[2000,-0.067],[760,-0.091],[835,-0.05],[403,-0.144],
[28,-0.133],[45,-0.079],[790,-0.014],[970,-0.002]];
const coreH = [[20,0.06],[22,-0.06],[24,0.09],[26,-0.03],[28,0.05],[30,-0.09],[32,0.0],[34,0.08],[37,-0.05],[40,0.03],
[42,0.09],[44,-0.07],[46,0.0],[49,0.05],[51,-0.06],[54,0.1],[57,-0.02],[59,0.04],[62,-0.09],[65,0.08],
[68,0.01],[71,-0.05],[74,0.1],[77,0.02],[80,-0.1],[83,0.06],[86,-0.02],[89,0.03],[92,0.09],[95,-0.07],
[98,0.0],[101,0.05],[105,-0.1],[109,0.08],[113,-0.03],[117,0.05],[121,0.02],[125,-0.08],[130,0.09],[135,-0.05],
[140,0.0],[145,0.06],[150,-0.11],[156,0.03],[162,-0.03],[168,0.07],[174,-0.09],[180,0.0],[187,0.09],[194,-0.05],
[201,0.03],[208,-0.12],[216,0.06],[224,-0.02],[232,0.1],[240,-0.07],[249,0.04],[258,-0.01],[268,0.09],[278,0.03],
[288,-0.04],[299,0.06],[310,-0.09],[322,0.0],[334,0.09],[347,-0.04],[360,0.05],[374,-0.1],[388,0.01],[403,0.08],
[418,-0.05],[434,0.04],[450,-0.01],[470,0.05],[490,-0.07],[510,0.03],[540,-0.02],[570,0.05],[600,0.0],[630,0.04]];
const openH = [[103,0.276],[89.4,0.252],[120,0.222],[214,0.276],[236,0.282],[35.5,0.228],[70,0.193],[176,0.199],[194,0.211],[348,0.217],
[331,0.187],[466,0.181],[1813,0.181],[21.9,0.146],[18,0.14],[18,0.11],[21.9,0.086],[35.5,0.163],[50,0.146],[73.7,0.151],
[138,0.151],[160,0.116],[248,0.146],[348,0.146],[539,0.146],[37.3,-0.109],[70,-0.127],[77.3,-0.168],[248,-0.138],[1062,-0.127],
[14.1,-0.168],[22.9,-0.168],[33.8,-0.174],[236,-0.239],[225,-0.245],[875,-0.221],[70,-0.298],[70,-0.322]];

const dotSets = [dotsA.concat(coreA), dotsB.concat(coreB), dotsC.concat(coreC), dotsD.concat(coreD),
                 dotsE.concat(coreE), dotsF.concat(coreF), dotsG.concat(coreG), dotsH.concat(coreH)];
const openSets = [openA, openB, openC, openD, openE, openF, openG, openH];

// ---------- LAYOUT GEOMETRY (pixels) ----------
const W = 1279, H = 724;
const PX = v => v / W, PY = v => 1 - v / H;
const INK = '#231f20';
const FONT = 'Liberation Sans, Arial, Helvetica, sans-serif';
const geo = [
  {x0:109.3, x1:335.7, yl:99.5,  yt:36,    yb:262,   xl:273.5},
  {x0:411,   x1:635.7, yl:402.3, yt:36,    yb:262,   xl:273.5},
  {x0:711.7, x1:936.7, yl:702.3, yt:36,    yb:262,   xl:273.5},
  {x0:1013.3,x1:1239.3,yl:1003.3,yt:36,    yb:262,   xl:273.5},
  {x0:109.3, x1:336,   yl:99.3,  yt:413.3, yb:638.3, xl:649},
  {x0:410.7, x1:637,   yl:401.7, yt:413.3, yb:638.3, xl:649},
  {x0:711.7, x1:938,   yl:701.7, yt:413.3, yb:638.3, xl:649},
  {x0:1013.3,x1:1239.6,yl:1002.7,yt:413.3, yb:638.3, xl:649}
];
const letterPos = [[110,21],[410,21],[711,21],[1013,21],[112,399],[412,399],[712,399],[1014,399]];
const windowPos = [[185,30],[475,30],[772,30],[1072,30]];

const traces = [];
const layout = {
  width: W, height: H, margin: {l:0, r:0, t:0, b:0},
  paper_bgcolor: '#fff', plot_bgcolor: 'rgba(0,0,0,0)',
  font: {family: FONT, color: INK},
  showlegend: true,
  legend: {x: PX(1132), xanchor: 'left', y: PY(413), yanchor: 'middle',
           font: {family: FONT, size: 20, color: INK}, bgcolor: 'rgba(0,0,0,0)', borderwidth: 0, itemwidth: 30},
  annotations: [], hovermode: false
};

geo.forEach((g, i) => {
  const n = i + 1;
  const xa = 'xaxis' + (n === 1 ? '' : n), ya = 'yaxis' + (n === 1 ? '' : n);
  const xr = 'x' + (n === 1 ? '' : n), yr = 'y' + (n === 1 ? '' : n);
  const top = i < 4;
  const common = {showline: true, linecolor: INK, linewidth: 2, ticks: 'outside', ticklen: 10, tickwidth: 2,
    tickcolor: INK, showgrid: false, zeroline: false, fixedrange: true, automargin: false,
    tickfont: {family: FONT, size: 20, color: INK}};
  layout[xa] = Object.assign({}, common, {
    domain: [PX(g.x0), PX(g.x1)], anchor: 'free', position: PY(g.xl), side: 'bottom',
    type: top ? 'linear' : 'log',
    range: top ? [0, 180] : [0.6448, 3.50518],
    tickmode: 'array', tickvals: top ? dirTickVals : speedTickVals, ticktext: top ? dirTickText : speedTickText
  });
  layout[ya] = Object.assign({}, common, {
    domain: [PY(g.yb), PY(g.yt)], anchor: 'free', position: PX(g.yl), side: 'left',
    range: [-0.4, 0.4], tickmode: 'array', tickvals: corrTickVals, ticktext: corrTickText,
    showticklabels: (i % 4 === 0), ticklabelstandoff: 4
  });
  traces.push({type: 'scatter', mode: 'markers', xaxis: xr, yaxis: yr, cliponaxis: false, showlegend: false,
    x: dotSets[i].map(p => p[0]), y: dotSets[i].map(p => p[1]),
    marker: {size: 7.5, color: '#1a1a1a', line: {width: 0}}});
  traces.push({type: 'scatter', mode: 'markers', xaxis: xr, yaxis: yr, cliponaxis: false,
    name: legendName, showlegend: i === 7,
    x: openSets[i].map(p => p[0]), y: openSets[i].map(p => p[1]),
    marker: {size: 10.5, color: '#ffffff', line: {width: 1.6, color: '#1a1a1a'}}});
  layout.annotations.push({xref: 'paper', yref: 'paper', x: PX(letterPos[i][0]), y: PY(letterPos[i][1]),
    xanchor: 'left', yanchor: 'middle', showarrow: false, text: panelLetters[i],
    font: {family: FONT, size: 38, color: INK}});
});
timeWindows.forEach((t, i) => {
  layout.annotations.push({xref: 'paper', yref: 'paper', x: PX(windowPos[i][0]), y: PY(windowPos[i][1]),
    xanchor: 'left', yanchor: 'middle', showarrow: false, text: t, font: {family: FONT, size: 20, color: INK}});
});
[147.5, 527.5].forEach(yc => {
  layout.annotations.push({xref: 'paper', yref: 'paper', x: PX(19.5), y: PY(yc), xanchor: 'center', yanchor: 'middle',
    showarrow: false, textangle: -90, text: yTitle, font: {family: FONT, size: 20, color: INK}});
});
layout.annotations.push({xref: 'paper', yref: 'paper', x: PX(632), y: PY(326), xanchor: 'center', yanchor: 'middle',
  showarrow: false, text: xTitleTop, font: {family: FONT, size: 23, color: INK}});
layout.annotations.push({xref: 'paper', yref: 'paper', x: PX(616), y: PY(699), xanchor: 'center', yanchor: 'middle',
  showarrow: false, text: xTitleBottom, font: {family: FONT, size: 23, color: INK}});

Plotly.newPlot('chart', traces, layout, {displayModeBar: false, staticPlot: true});
</script>
</body></html>
